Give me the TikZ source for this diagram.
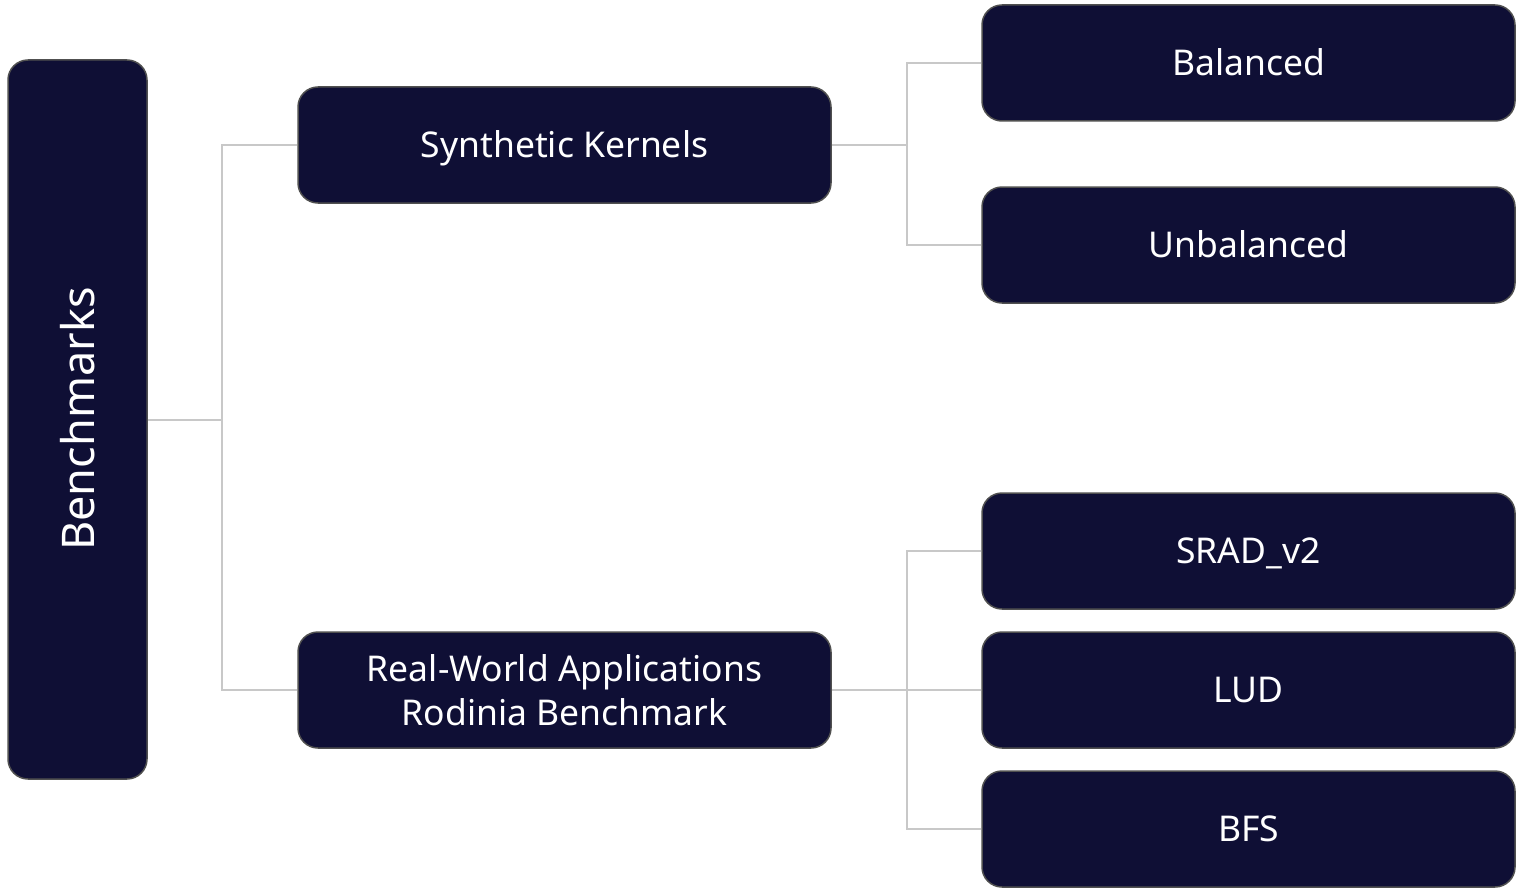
\documentclass[tikz,border=0pt]{standalone}
\usepackage{fontspec}
\setmainfont{Noto Sans}
\definecolor{boxfill}{HTML}{0F0F35}
\definecolor{boxline}{HTML}{505050}
\definecolor{conn}{HTML}{C8C8C8}
\tikzset{
  box/.style={draw=boxline, line width=1.5pt, fill=boxfill, rounded corners=20pt,
    text=white, align=center, inner sep=0pt, font=\fontsize{35.5}{44}\selectfont},
  wide/.style={box, minimum width=533pt, minimum height=116pt},
  single/.style={wide, text height=30pt, text depth=4.6pt},
  link/.style={draw=conn, line width=2pt}
}
\begin{document}
\begin{tikzpicture}[x=1pt,y=-1pt]
\useasboundingbox (0,0) rectangle (1517,888);
\node[box, minimum width=139pt, minimum height=719pt] (bench) at (77.5,419.5) {};
\node[rotate=90, text=white, font=\fontsize{45}{52}\selectfont] (benchlbl) at (78,419) {Benchmarks};
\node[single] (syn) at (564.5,145) {Synthetic Kernels};
\node[wide] (real) at (564.5,690) {Real-World Applications\\Rodinia Benchmark};
\node[single] (bal) at (1248.5,63) {Balanced};
\node[single] (unb) at (1248.5,245) {Unbalanced};
\node[single] (srad) at (1248.5,551) {SRAD\_v2};
\node[single] (lud) at (1248.5,690) {LUD};
\node[single] (bfs) at (1248.5,829) {BFS};
\coordinate (j1) at (222,420);
\coordinate (j2) at (907,145);
\coordinate (j3) at (907,690);
\draw[link] (bench.east |- j1) -- (j1);
\draw[link] (j1) |- (syn.west);
\draw[link] (j1) |- (real.west);
\draw[link] (syn.east) -- (j2);
\draw[link] (j2) |- (bal.west);
\draw[link] (j2) |- (unb.west);
\draw[link] (real.east) -- (j3);
\draw[link] (j3) |- (srad.west);
\draw[link] (j3) -- (lud.west);
\draw[link] (j3) |- (bfs.west);
\end{tikzpicture}
\end{document}
